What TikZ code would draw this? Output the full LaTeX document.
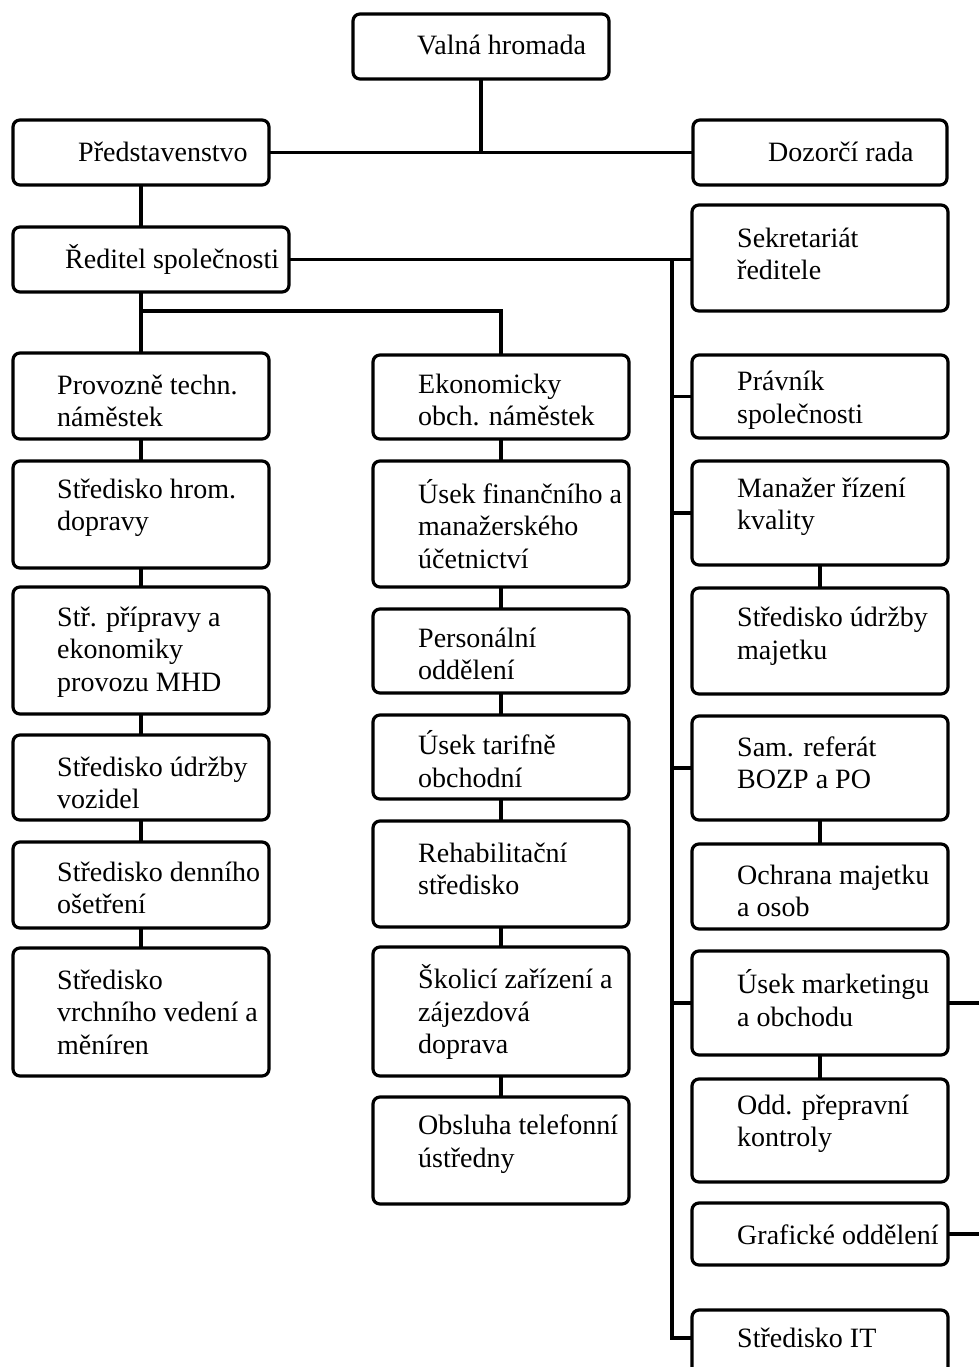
\documentclass[tikz,border=0pt]{standalone}
\usepackage{fontspec}
\setmainfont{Liberation Serif}
\usetikzlibrary{calc}
\begin{document}
\begin{tikzpicture}[x=1pt,y=-1pt,
  box/.style={draw, line width=3.2pt, rounded corners=7pt, inner sep=0pt, outer sep=0pt, anchor=north west, minimum width=256pt},
  lbl/.style={anchor=west, align=left, inner sep=0pt, font=\fontsize{28}{32.5}\selectfont},
  conn/.style={line width=3.2pt}]
\useasboundingbox (0,0) rectangle (979,1367);
\clip (0,0) rectangle (979,1367);
% top
\node[box, minimum height=65pt] (valna) at (353,14) {};
\node[box, minimum height=65pt] (pred) at (13,120) {};
\node[box, minimum width=254pt, minimum height=65pt] (doz) at (693,120) {};
\node[box, minimum width=276pt, minimum height=65pt] (red) at (13,227) {};
\node[box, minimum height=106pt] (sek) at (692,205) {};
% left column
\node[box, minimum height=86pt] (prov) at (13,353) {};
\node[box, minimum height=107pt] (hrom) at (13,461) {};
\node[box, minimum height=127pt] (prip) at (13,587) {};
\node[box, minimum height=85pt] (voz) at (13,735) {};
\node[box, minimum height=86pt] (den) at (13,842) {};
\node[box, minimum height=128pt] (vrch) at (13,948) {};
% middle column
\node[box, minimum height=84pt] (ekon) at (373,355) {};
\node[box, minimum height=126pt] (fin) at (373,461) {};
\node[box, minimum height=84pt] (pers) at (373,609) {};
\node[box, minimum height=84pt] (tar) at (373,715) {};
\node[box, minimum height=106pt] (reh) at (373,821) {};
\node[box, minimum height=129pt] (skol) at (373,947) {};
\node[box, minimum height=107pt] (obs) at (373,1097) {};
% right column
\node[box, minimum height=83pt] (prav) at (692,355) {};
\node[box, minimum height=104pt] (man) at (692,461) {};
\node[box, minimum height=106pt] (udm) at (692,588) {};
\node[box, minimum height=104pt] (sam) at (692,716) {};
\node[box, minimum height=85pt] (ochr) at (692,844) {};
\node[box, minimum height=104pt] (mkt) at (692,951) {};
\node[box, minimum height=103pt] (odd) at (692,1079) {};
\node[box, minimum height=62pt] (graf) at (692,1203) {};
\node[box, minimum height=70pt] (it) at (692,1310) {};
% labels
\node[lbl] (valnaT) at (417,45) {Valná hromada};
\node[lbl] (predT) at (78,152) {Představenstvo};
\node[lbl] (dozT) at (768,152) {Dozorčí rada};
\node[lbl] (redT) at (65,259) {Ředitel společnosti};
\node[lbl] (sekT) at (737,254) {Sekretariát\\ředitele};
\node[lbl] (provT) at (57,401) {Provozně techn.\\náměstek};
\node[lbl] (hromT) at (57,508) {Středisko hrom.\\dopravy};
\node[lbl] (pripT) at (57,652) {Stř. přípravy a\\ekonomiky\\provozu MHD};
\node[lbl] (vozT) at (57,783) {Středisko údržby\\vozidel};
\node[lbl] (denT) at (57,888) {Středisko denního\\ošetření};
\node[lbl] (vrchT) at (57,1012) {Středisko\\vrchního vedení a\\měníren};
\node[lbl] (ekonT) at (418,400) {Ekonomicky\\obch. náměstek};
\node[lbl] (finT) at (418,524) {Úsek finančního a\\manažerského\\účetnictví};
\node[lbl] (persT) at (418,654) {Personální\\oddělení};
\node[lbl] (tarT) at (418,759) {Úsek tarifně\\obchodní};
\node[lbl] (rehT) at (418,869) {Rehabilitační\\středisko};
\node[lbl] (skolT) at (418,1012) {Školicí zařízení a\\zájezdová\\doprava};
\node[lbl] (obsT) at (418,1144) {Obsluha telefonní\\ústředny};
\node[lbl] (pravT) at (737,400) {Právník\\společnosti};
\node[lbl] (manT) at (737,507) {Manažer řízení\\kvality};
\node[lbl] (udmT) at (737,636) {Středisko údržby\\majetku};
\node[lbl] (samT) at (737,763) {Sam. referát\\BOZP a PO};
\node[lbl] (ochrT) at (737,891) {Ochrana majetku\\a osob};
\node[lbl] (mktT) at (737,998) {Úsek marketingu\\a obchodu};
\node[lbl] (oddT) at (737,1124) {Odd. přepravní\\kontroly};
\node[lbl] (grafT) at (737,1235) {Grafické oddělení};
\node[lbl] (itT) at (737,1338) {Středisko IT};
% connectors
\coordinate (trunk) at (672,259);
\coordinate (brL) at (141,311);
\coordinate (edge) at (990,0);
\draw[conn] (valna.south) -- (valna.south |- pred.east);
\draw[conn] (pred.east) -- (doz.west);
\draw[conn] (pred.south) -- (pred.south |- red.north);
\draw[conn] (red.east) -- (red.east -| sek.west);
\draw[conn] (pred.south |- red.south) -- (prov.north);
\draw[conn] (brL) -| (ekon.north);
\draw[conn] (trunk) |- ($(it.north west)+(0,28)$);
\draw[conn] (trunk |- prav.west) -- (prav.west);
\draw[conn] (trunk |- man.west) -- (man.west);
\draw[conn] (trunk |- sam.west) -- (sam.west);
\draw[conn] (trunk |- mkt.west) -- (mkt.west);
\draw[conn] (prov.south) -- (hrom.north);
\draw[conn] (hrom.south) -- (prip.north);
\draw[conn] (prip.south) -- (voz.north);
\draw[conn] (voz.south) -- (den.north);
\draw[conn] (den.south) -- (vrch.north);
\draw[conn] (ekon.south) -- (fin.north);
\draw[conn] (fin.south) -- (pers.north);
\draw[conn] (pers.south) -- (tar.north);
\draw[conn] (tar.south) -- (reh.north);
\draw[conn] (reh.south) -- (skol.north);
\draw[conn] (skol.south) -- (obs.north);
\draw[conn] (man.south) -- (udm.north);
\draw[conn] (sam.south) -- (ochr.north);
\draw[conn] (mkt.south) -- (odd.north);
\draw[conn] (mkt.east) -- (mkt.east -| edge);
\draw[conn] (graf.east) -- (graf.east -| edge);
\end{tikzpicture}
\end{document}
